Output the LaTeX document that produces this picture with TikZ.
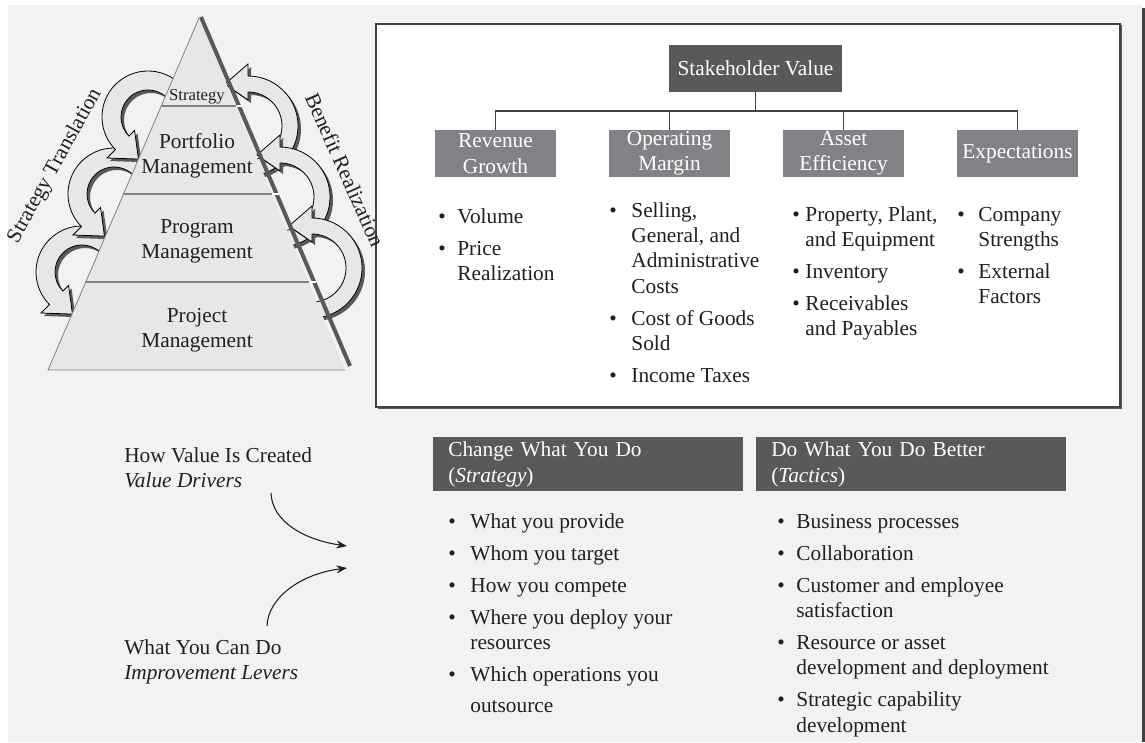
\documentclass[tikz,border=0pt]{standalone}
\usepackage{fontspec}
\setmainfont{Liberation Serif}
\usetikzlibrary{arrows.meta, calc}
\definecolor{colorPanel}{HTML}{F1F2F4}
\definecolor{darkBox}{HTML}{58595B}
\definecolor{midBox}{HTML}{808285}
\definecolor{pyramidFill}{HTML}{E6E7E8}
\definecolor{inkText}{HTML}{231F20}
\definecolor{edgeDark}{HTML}{414042}

% curved block arrow: centre x, centre y, start angle, end angle, outer r, inner r
\newcommand\bendarrow[6]{%
  \pgfmathsetmacro\bax{#1+#5*cos(#3)}\pgfmathsetmacro\bay{#2+#5*sin(#3)}%
  \pgfmathsetmacro\bbx{#1+(#5+12)*cos(#4)}\pgfmathsetmacro\bby{#2+(#5+12)*sin(#4)}%
  \pgfmathsetmacro\btx{#1+(#5+#6)/2*cos(#4)+23*cos(#4-90)}%
  \pgfmathsetmacro\bty{#2+(#5+#6)/2*sin(#4)+23*sin(#4-90)}%
  \pgfmathsetmacro\bcx{#1+(#6-8)*cos(#4)}\pgfmathsetmacro\bcy{#2+(#6-8)*sin(#4)}%
  \pgfmathsetmacro\bdx{#1+#6*cos(#4)}\pgfmathsetmacro\bdy{#2+#6*sin(#4)}%
  \foreach \off/\sty in {3/bshadow,0/bbody}
    \path[\sty, shift={(\off,\off)}] (\bax,\bay) arc[start angle=#3, end angle=#4, radius=#5]
      -- (\bbx,\bby) -- (\btx,\bty) -- (\bcx,\bcy) -- (\bdx,\bdy)
      arc[start angle=#4, end angle=#3, radius=#6] -- cycle;
}
\newcommand\blist[2]{\begin{tabular}[t]{@{}l@{\hskip #1}l@{}}#2\end{tabular}}
\newcommand\bgap{4.9pt}

\begin{document}
\begin{tikzpicture}[x=0.75pt, y=-0.75pt, font=\fontsize{16}{19.1}\selectfont, text=inkText,
        valbox/.style={fill=darkBox, text=white, inner sep=0pt, minimum width=129.75pt, minimum height=35.25pt},
        driver/.style={fill=midBox, text=white, inner sep=0pt, minimum width=90.75pt,
            minimum height=35.25pt, align=center},
        lever/.style={fill=darkBox, text=white, inner xsep=11.25pt, inner ysep=0pt, minimum height=40.5pt,
            text width=210pt, align=left, anchor=north west},
        bulletList/.style={inner sep=0pt, anchor=base west},
        tree/.style={draw=edgeDark, line width=1.1pt},
        bshadow/.style={fill=darkBox},
        bbody/.style={fill=pyramidFill, draw=black, line width=0.6pt},
        leverArrow/.style={-{Stealth[length=8pt, width=6pt]}, line width=0.8pt, draw=inkText}]
    \useasboundingbox (0,0) rectangle (1145,742);
    \fill[colorPanel] (8,5) rectangle (1142,742);
    \draw[edgeDark, line width=1.9pt] (1143.5,8) -- (1143.5,742);
    % value tree panel
    \fill[darkBox] (377.5,25.5) rectangle (1121.5,408.5);
    \draw[edgeDark, fill=white, line width=0.8pt] (376,24) rectangle (1120,407);
    \node[valbox] (sv) at (755.5,68.5) {Stakeholder Value};
    \node[driver] (rg) at (495.5,153.5) {Revenue\\Growth};
    \node[driver] (om) at (669.5,153.5) {Operating\\Margin};
    \node[driver] (ae) at (843.5,153.5) {Asset\\Efficiency};
    \node[driver] (ex) at (1017.5,153.5) {Expectations};
    \coordinate (bus) at (755.5,111);
    \draw[tree] (sv) -- (bus);
    \foreach \n in {rg,om,ae,ex} \draw[tree] (\n.north) |- (bus);
    \node[bulletList] (rgList) at (438,223) {\blist{8.75pt}{\textbullet & Volume\\[\bgap]
        \textbullet & Price\\ & Realization}};
    \node[bulletList] (omList) at (609,217) {\blist{11pt}{\textbullet & Selling,\\ & General, and\\
        & Administrative\\ & Costs\\[\bgap] \textbullet & Cost of Goods\\ & Sold\\[\bgap]
        \textbullet & Income Taxes}};
    \node[bulletList] (aeList) at (792,221) {\blist{4.25pt}{\textbullet & Property, Plant,\\
        & and Equipment\\[\bgap] \textbullet & Inventory\\[\bgap] \textbullet & Receivables\\
        & and Payables}};
    \node[bulletList] (exList) at (957,221) {\blist{10.25pt}{\textbullet & Company\\ & Strengths\\[\bgap]
        \textbullet & External\\ & Factors}};
    % strategy and tactics
    \node[lever] (chg) at (433,437) {Change What You Do\\(\textit{Strategy})};
    \node[lever] (dob) at (756,437) {Do What You Do Better\\(\textit{Tactics})};
    \node[bulletList] (chgList) at (448,528) {\blist{11pt}{\textbullet & What you provide\\[\bgap]
        \textbullet & Whom you target\\[\bgap] \textbullet & How you compete\\[\bgap]
        \textbullet & Where you deploy your\\ & resources\\[\bgap] \textbullet & Which operations you\\[4.5pt]
        & outsource}};
    \node[bulletList] (dobList) at (777,528) {\blist{8.75pt}{\textbullet & Business processes\\[\bgap]
        \textbullet & Collaboration\\[\bgap] \textbullet & Customer and employee\\ & satisfaction\\[\bgap]
        \textbullet & Resource or asset\\ & development and deployment\\[\bgap]
        \textbullet & Strategic capability\\ & development}};
    \node[bulletList] (how) at (124,462) {\begin{tabular}[t]{@{}l@{}}How Value Is Created\\
        \textit{Value Drivers}\end{tabular}};
    \node[bulletList] (what) at (124,654) {\begin{tabular}[t]{@{}l@{}}What You Can Do\\
        \textit{Improvement Levers}\end{tabular}};
    \coordinate (howStart) at (271,493);
    \coordinate (howEnd) at (347,546);
    \coordinate (whatStart) at (267,626);
    \coordinate (whatEnd) at (347,568);
    \draw[leverArrow] (howStart) .. controls (272,522) and (305,540) .. (howEnd);
    \draw[leverArrow] (whatStart) .. controls (268,598) and (300,574) .. (whatEnd);
    % curved arrows round the pyramid
    \bendarrow{82}{272}{-40}{-225}{46}{27}
    \bendarrow{114}{194}{-40}{-225}{46}{27}
    \bendarrow{148}{117}{-40}{-225}{46}{27}
    \bendarrow{248}{126}{110}{-90}{50}{34}
    \bendarrow{280}{197}{110}{-90}{50}{34}
    \bendarrow{312}{268}{110}{-90}{50}{34}
    % pyramid
    \coordinate (pyTop) at (199,18);
    \coordinate (pyLeft) at (48,370);
    \coordinate (pyRight) at (345,370);
    \fill[pyramidFill] (pyTop) -- (pyRight) -- (pyLeft) -- cycle;
    \draw[midBox, line width=0.6pt] (pyTop) -- (pyLeft) -- (pyRight);
    \foreach \t in {0.25,0.5,0.75}
        \draw[midBox, line width=1.2pt] ($(pyTop)!\t!(pyLeft)$) -- ($(pyTop)!\t!(pyRight)$);
    \draw[darkBox, line width=3pt] ($(pyTop)+(2,-1)$) -- ($(pyRight)+(5,-4)$);
    \foreach \t in {0.25,0.5,0.75}
        \draw[white, line width=0.8pt] ($(pyTop)!\t!(pyRight)+(1,0)$) -- ++(6,0);
    \node[anchor=base, inner sep=0pt, font=\fontsize{12.5}{15}\selectfont] (lvStrategy) at (197,100) {Strategy};
    \node[anchor=base, inner sep=0pt] (lvPortfolio) at (197,148) {\begin{tabular}[t]{@{}c@{}}Portfolio\\Management\end{tabular}};
    \node[anchor=base, inner sep=0pt] (lvProgram) at (197,233) {\begin{tabular}[t]{@{}c@{}}Program\\Management\end{tabular}};
    \node[anchor=base, inner sep=0pt] (lvProject) at (197,322) {\begin{tabular}[t]{@{}c@{}}Project\\Management\end{tabular}};
    \node[rotate=61, inner sep=0pt] (transl) at (55,166) {Strategy Translation};
    \node[rotate=-66, inner sep=0pt] (benefit) at (345,170) {Benefit Realization};
\end{tikzpicture}
\end{document}
